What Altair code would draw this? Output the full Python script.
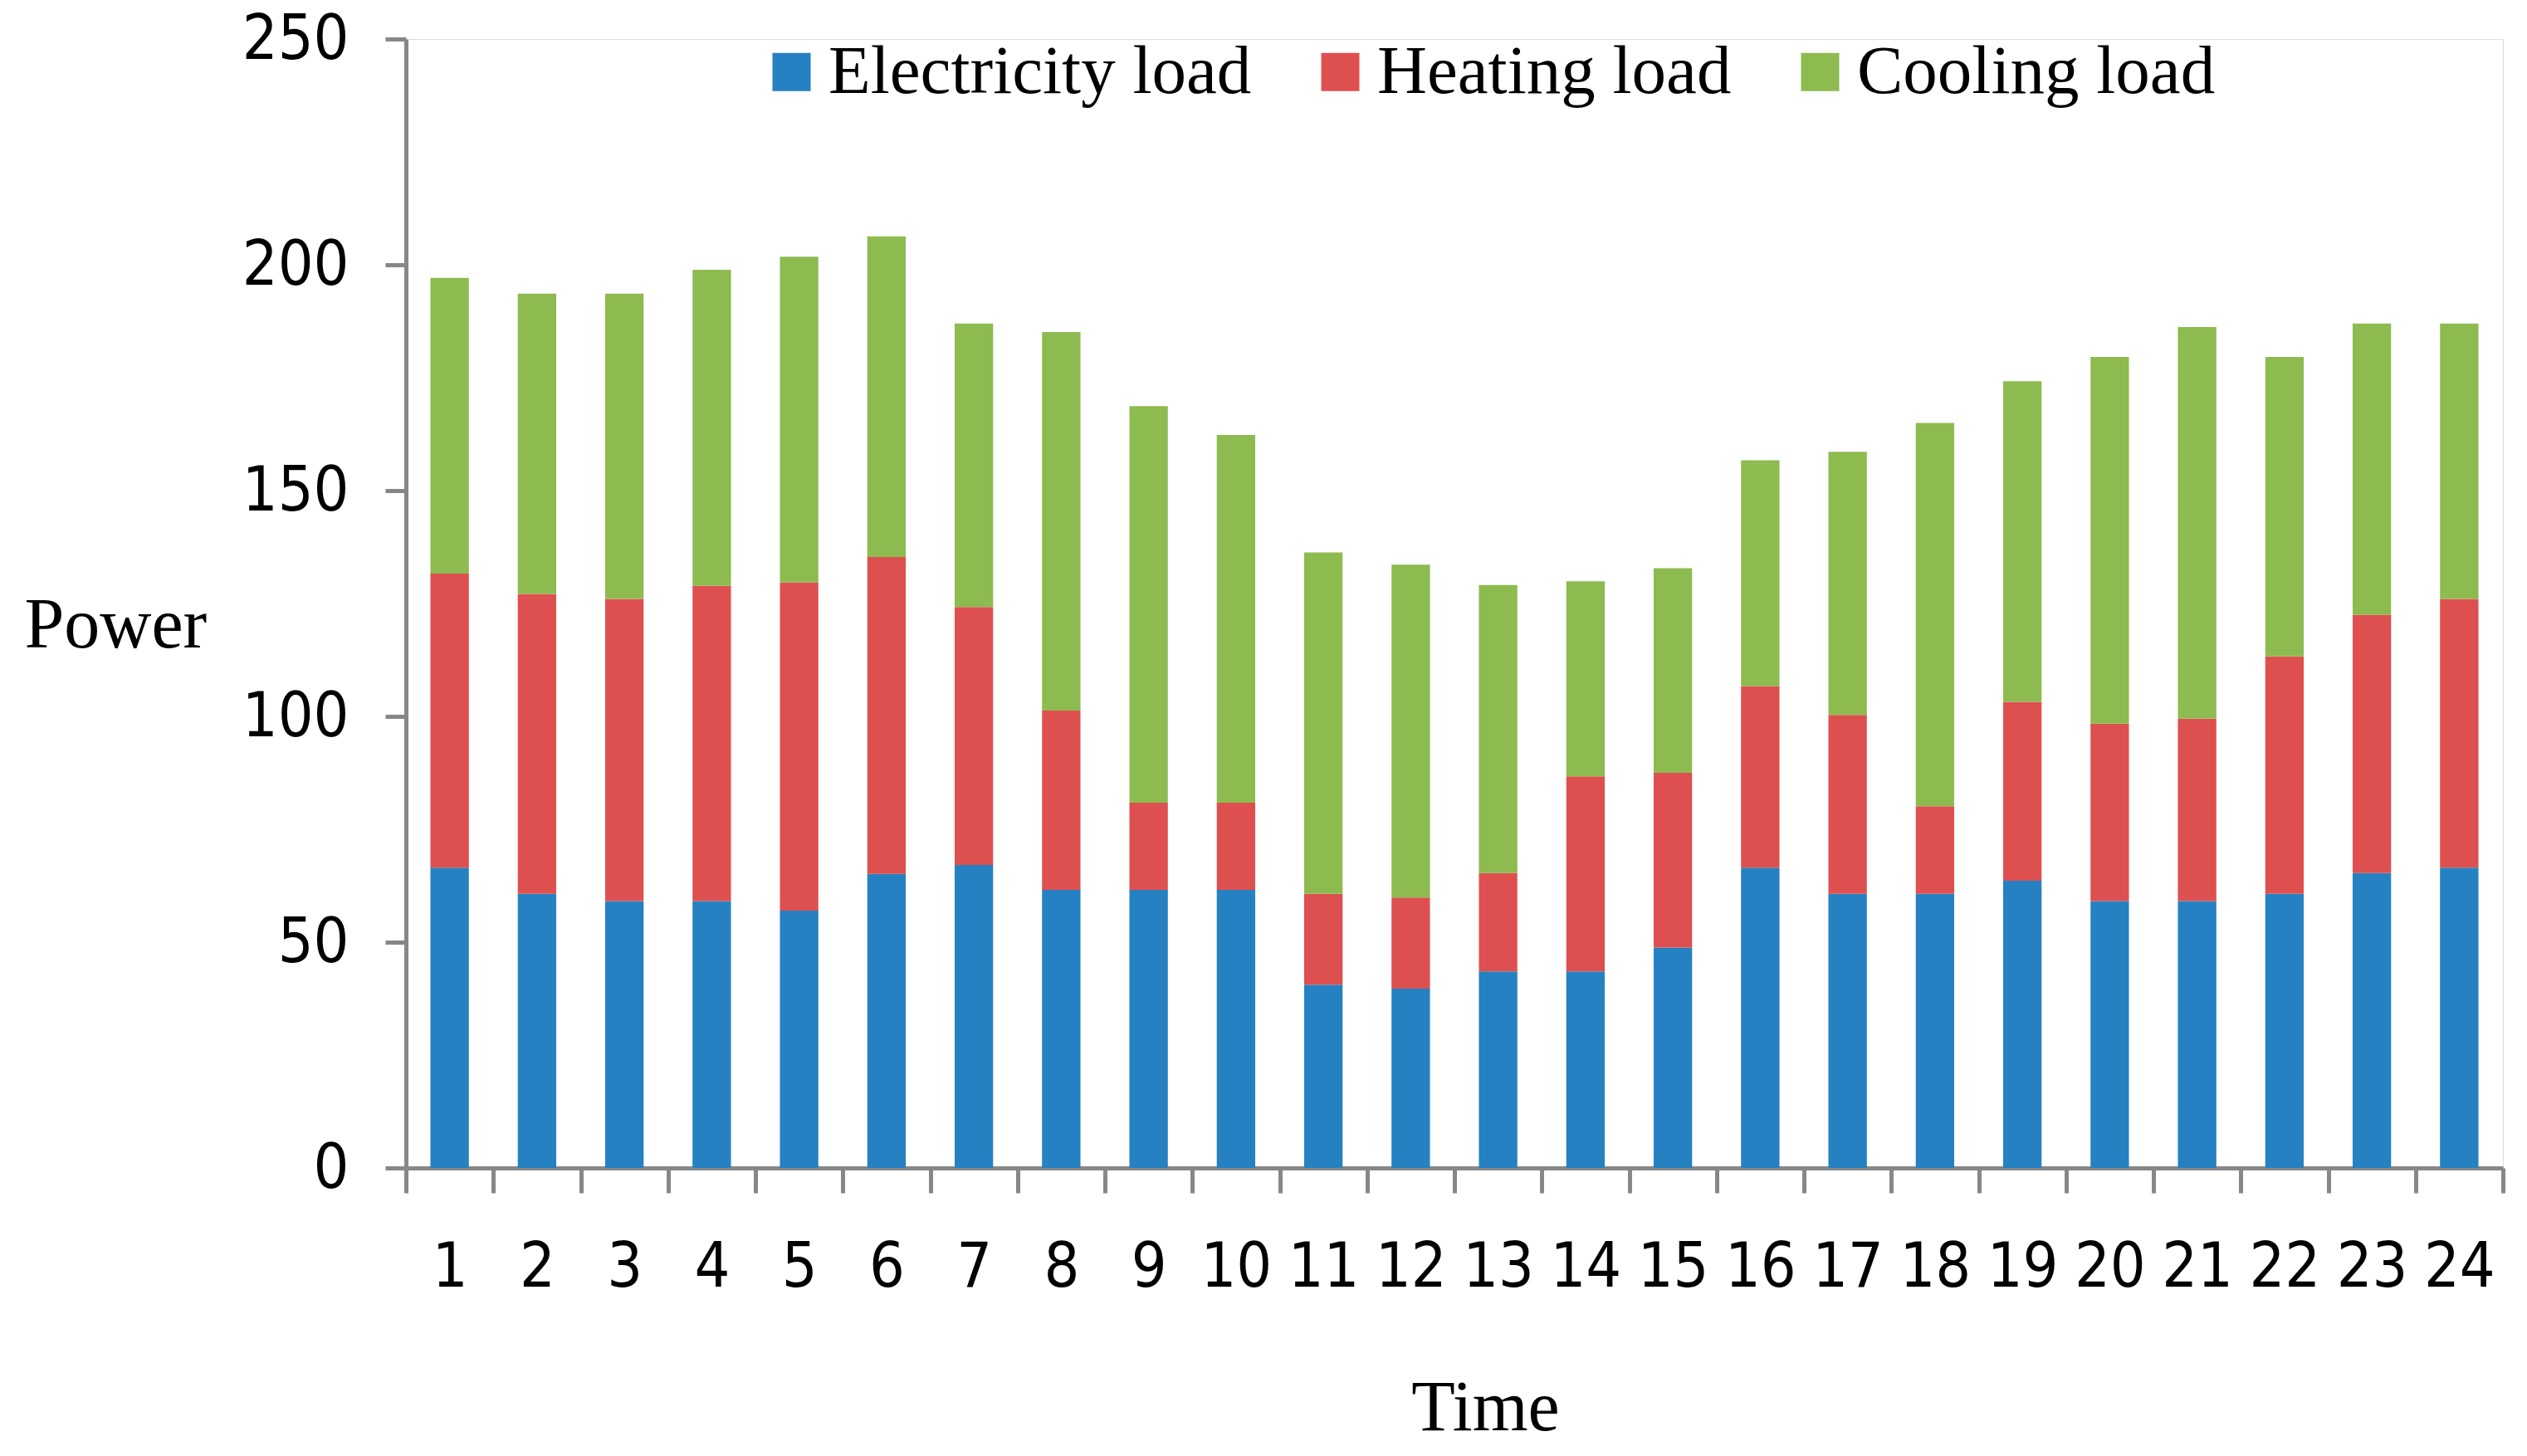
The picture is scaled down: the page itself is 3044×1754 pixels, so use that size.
import altair as alt
import pandas as pd

# hourly loads
hours = list(range(1, 25))
electricity = [66.5, 60.7, 59.1, 59.1, 57.0, 65.1, 67.1, 61.6, 61.6, 61.6, 40.6, 39.7,
               43.5, 43.5, 48.8, 66.5, 60.7, 60.7, 63.6, 59.1, 59.1, 60.7, 65.3, 66.5]
heating = [65.1, 66.4, 66.9, 69.8, 72.7, 70.2, 57.1, 39.7, 19.3, 19.3, 20.1, 20.2,
           21.8, 43.2, 38.7, 40.2, 39.6, 19.4, 39.6, 39.3, 40.4, 52.6, 57.2, 59.5]
cooling = [65.5, 66.5, 67.6, 70.0, 72.1, 71.0, 62.8, 83.8, 87.8, 81.4, 75.6, 73.7,
           63.8, 43.2, 45.3, 50.0, 58.3, 84.9, 71.0, 81.2, 86.7, 66.3, 64.5, 61.0]

series = ["Electricity load", "Heating load", "Cooling load"]
colors = ["#2581C1", "#DE5050", "#8DBB50"]
y_ticks = [0, 50, 100, 150, 200, 250]

rows = []
for i, h in enumerate(hours):
    for k, (name, vals) in enumerate(zip(series, [electricity, heating, cooling])):
        rows.append({"Time": str(h), "load": name, "value": vals[i], "order": k})
df = pd.DataFrame(rows)

num_font = "DejaVu Sans Condensed, DejaVu Sans"
serif = "Liberation Serif"

bars = (
    alt.Chart(df)
    .mark_bar(width=alt.RelativeBandSize(0.44))
    .encode(
        x=alt.X(
            "Time:N",
            sort=[str(h) for h in hours],
            scale=alt.Scale(paddingInner=0, paddingOuter=0),
            axis=alt.Axis(
                title="Time",
                titleFont=serif,
                titleFontSize=86,
                titleFontWeight="normal",
                titleColor="black",
                titleX=1300,
                titleY=315,
                titleAlign="center",
                titleBaseline="alphabetic",
                labelFont=num_font,
                labelFontSize=75,
                labelColor="black",
                labelAngle=0,
                labelPadding=53,
                tickBand="extent",
                tickSize=30,
                tickWidth=5,
                tickColor="#878787",
                domainColor="#878787",
                domainWidth=5,
                grid=False,
            ),
        ),
        y=alt.Y(
            "value:Q",
            stack="zero",
            scale=alt.Scale(domain=[0, 250], nice=False),
            axis=alt.Axis(
                title="Power",
                titleFont=serif,
                titleFontSize=86,
                titleFontWeight="normal",
                titleColor="black",
                titleAngle=0,
                titleX=-460,
                titleY=732,
                titleAlign="left",
                titleBaseline="alphabetic",
                values=y_ticks,
                labelFont=num_font,
                labelFontSize=75,
                labelColor="black",
                labelPadding=44,
                tickSize=25,
                tickWidth=5,
                tickColor="#878787",
                domainColor="#878787",
                domainWidth=5,
                grid=False,
            ),
        ),
        color=alt.Color(
            "load:N",
            sort=series,
            scale=alt.Scale(domain=series, range=colors),
            legend=alt.Legend(
                title=None,
                orient="none",
                legendX=423,
                legendY=-2,
                direction="horizontal",
                symbolType="square",
                symbolSize=2116,
                symbolStrokeWidth=0,
                labelFont=serif,
                labelFontSize=83,
                labelColor="black",
                labelOffset=3,
                columnPadding=65,
                padding=0,
                labelLimit=0,
            ),
        ),
        order=alt.Order("order:Q"),
    )
)

chart = (
    bars.properties(width=2526, height=1360, padding={"left": 21, "top": 2, "right": 10, "bottom": 10})
    .configure_view(stroke=None)
    .configure(background="white")
)

chart.save("out.html", embed_options={"renderer": "svg", "actions": False})
